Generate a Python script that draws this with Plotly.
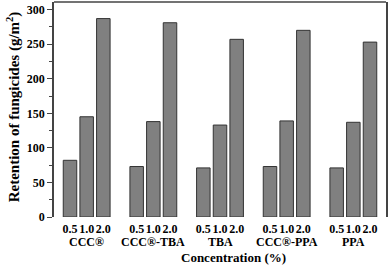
import plotly.graph_objects as go

groups = ["CCC®", "CCC®-TBA", "TBA", "CCC®-PPA", "PPA"]
concentrations = ["0.5", "1.0", "2.0"]
retention = [
    [82, 145, 287],   # CCC®
    [73, 138, 281],   # CCC®-TBA
    [71, 133, 257],   # TBA
    [73, 139, 270],   # CCC®-PPA
    [71, 137, 253],   # PPA
]
y_ticks = [0, 50, 100, 150, 200, 250, 300]

FONT = "Liberation Serif"
step = len(concentrations) + 1

xs, ys, tick_text = [], [], []
for g, vals in enumerate(retention):
    for j, v in enumerate(vals):
        xs.append(g * step + j)
        ys.append(v)
        tick_text.append(concentrations[j])

fig = go.Figure()
fig.add_trace(go.Bar(
    x=xs, y=ys, width=0.81,
    marker=dict(color="#808080", line=dict(color="#333333", width=1)),
    showlegend=False,
))

annotations = []
for g, name in enumerate(groups):
    annotations.append(dict(
        x=g * step + 1, xref="x", y=0, yref="paper", yshift=-25,
        text=f"<b>{name}</b>", showarrow=False, xanchor="center", yanchor="middle",
        font=dict(family=FONT, size=12, color="black"),
    ))
annotations.append(dict(
    x=0.54, xref="paper", y=0, yref="paper", yshift=-40,
    text="<b>Concentration (%)</b>", showarrow=False, xanchor="center", yanchor="middle",
    font=dict(family=FONT, size=13, color="black"),
))
annotations.append(dict(
    x=0, xref="paper", y=0.51, yref="paper", xshift=-41,
    text="<b>Retention of fungicides (g/m<sup>2</sup>)</b>", showarrow=False,
    textangle=-90, xanchor="center", yanchor="middle",
    font=dict(family=FONT, size=15, color="black"),
))

fig.update_layout(
    width=388, height=265,
    margin=dict(l=54, r=2, t=2, b=48, autoexpand=False),
    plot_bgcolor="white", paper_bgcolor="white",
    font=dict(family=FONT, size=12, color="black"),
    annotations=annotations,
    shapes=[dict(type="line", xref="paper", yref="paper", x0=0, x1=1, y0=1, y1=1,
                 line=dict(color="#444444", width=1.5))],
    xaxis=dict(
        range=[-0.96, (len(groups) - 1) * step + len(concentrations) - 1 + 0.96],
        tickmode="array", tickvals=xs, ticktext=[f"<b>{t}</b>" for t in tick_text],
        tickangle=0, automargin=False, ticklabelstandoff=3,
        ticks="", showline=False, showgrid=False, zeroline=False,
        tickfont=dict(family=FONT, size=12, color="black"),
    ),
    yaxis=dict(
        range=[0, 311], tickmode="array", tickvals=y_ticks,
        ticktext=[f"<b>{t}</b>" for t in y_ticks], automargin=False,
        ticks="outside", ticklen=5, tickwidth=1, tickcolor="#444444",
        minor=dict(ticks="outside", ticklen=3, tickwidth=1, tickcolor="#444444", dtick=25),
        showline=True, linecolor="#444444", linewidth=1.5, mirror=True,
        showgrid=False, zeroline=False,
        tickfont=dict(family=FONT, size=12, color="black"),
    ),
)

fig.write_html(
    "out.html",
    config={"displayModeBar": False},
    post_script="document.body.style.margin='0';document.body.style.overflow='hidden';",
)
